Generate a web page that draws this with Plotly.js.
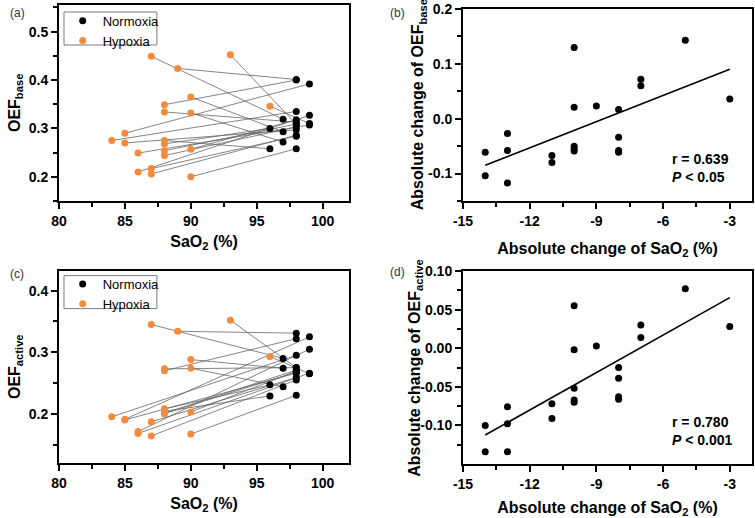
<!DOCTYPE html>
<html>
<head>
<meta charset="utf-8">
<script src="https://cdn.plot.ly/plotly-3.0.1.min.js"></script>
<style>
  html, body { margin: 0; padding: 0; background: #ffffff; }
  .panel { position: absolute; }
  #pa { left: 0; top: 0; }
  #pb { left: 377px; top: 0; }
  #pc { left: 0; top: 259px; }
  #pd { left: 377px; top: 259px; }
  #tick { position: absolute; left: 0; top: 0; width: 1px; height: 1px; }
</style>
</head>
<body>
<div id="pa" class="panel"></div>
<div id="pb" class="panel"></div>
<div id="pc" class="panel"></div>
<div id="pd" class="panel"></div>
<div id="tick"></div>
<script>
// one entry per subject, panels (a) and (c)
var hypSat  = [96, 93, 89, 87, 84, 85, 85, 86, 86, 87, 87, 90, 90, 90, 90, 88, 88, 88, 88, 88, 88];
var normSat = [99, 98, 98, 97, 98, 99, 98, 99, 99, 98, 98, 97, 97, 98, 98, 96, 96, 98, 98, 98, 98];
var hypBase  = [0.346, 0.452, 0.424, 0.449, 0.275, 0.290, 0.270, 0.249, 0.210, 0.217, 0.206,
                0.365, 0.332, 0.200, 0.257, 0.275, 0.268, 0.349, 0.334, 0.254, 0.244];
var normBase = [0.310, 0.309, 0.401, 0.319, 0.335, 0.392, 0.297, 0.307, 0.327, 0.284, 0.286,
                0.293, 0.272, 0.258, 0.318, 0.258, 0.300, 0.400, 0.313, 0.309, 0.303];
var hypActive  = [0.293, 0.352, 0.334, 0.345, 0.195, 0.191, 0.190, 0.171, 0.168, 0.187, 0.164,
                  0.288, 0.274, 0.167, 0.203, 0.208, 0.204, 0.273, 0.270, 0.201, 0.200];
var normActive = [0.265, 0.275, 0.331, 0.290, 0.295, 0.325, 0.266, 0.305, 0.266, 0.259, 0.255,
                  0.274, 0.244, 0.230, 0.269, 0.247, 0.229, 0.275, 0.322, 0.271, 0.268];

// panels (b) and (d): change (hypoxia - normoxia)
var dSat    = [-14, -14, -13, -13, -13, -11, -11, -10, -10, -10, -10, -10, -9, -8, -8, -8, -8, -7, -7, -5, -3];
var dBase   = [-0.061, -0.104, -0.027, -0.058, -0.117, -0.067, -0.080, 0.130, 0.021, -0.050, -0.055,
               -0.059, 0.023, 0.017, -0.034, -0.058, -0.061, 0.072, 0.060, 0.143, 0.036];
var dActive = [-0.100, -0.134, -0.076, -0.098, -0.134, -0.072, -0.091, 0.055, -0.002, -0.052, -0.067,
               -0.070, 0.003, -0.025, -0.039, -0.063, -0.066, 0.030, 0.014, 0.077, 0.028];

// regression lines
var fitX = [-14, -3];
var fitBase = [-0.085, 0.090];
var fitActive = [-0.1125, 0.0655];

// tick labels (plain hyphen, as in the figure)
var dSatTicks = [-15, -12, -9, -6, -3];
var dSatText = ['-15', '-12', '-9', '-6', '-3'];
var dSatMinor = [-13.5, -10.5, -7.5, -4.5];
var dBaseTicks = [-0.1, 0, 0.1, 0.2];
var dBaseText = ['-0.1', '0.0', '0.1', '0.2'];
var dBaseMinor = [-0.15, -0.05, 0.05, 0.15];
var dActiveTicks = [-0.10, -0.05, 0, 0.05, 0.10];
var dActiveText = ['-0.10', '-0.05', '0.00', '0.05', '0.10'];
var dActiveMinor = [-0.125, -0.075, -0.025, 0.025, 0.075];

var FONT = 'Arial, "Liberation Sans", sans-serif';
var ORANGE = '#F68A3B';

function axis(extra) {
    var a = {
        showline: true, linewidth: 2, linecolor: '#000000', mirror: true,
        ticks: 'outside', ticklen: 6, tickwidth: 2, tickcolor: '#000000',
        showgrid: false, zeroline: false,
        tickfont: {family: FONT, size: 14, weight: 'bold', color: '#000000'}
    };
    for (var k in extra) a[k] = extra[k];
    return a;
}

function minorTicks(extra) {
    var m = {ticks: 'outside', ticklen: 4, tickwidth: 2, tickcolor: '#000000', showgrid: false};
    for (var k in extra) m[k] = extra[k];
    return m;
}

function xTitle(text, standoff) {
    return {text: text, standoff: standoff, font: {family: FONT, size: 16, weight: 'bold', color: '#000000'}};
}

function yTitle(text, x) {
    return {
        text: text, xref: 'paper', yref: 'paper', x: x, y: 0.5, textangle: -90,
        xanchor: 'center', yanchor: 'middle', showarrow: false,
        font: {family: FONT, size: 16, weight: 'bold', color: '#000000'}
    };
}

function label(text, x, y) {
    return {
        text: text, xref: 'paper', yref: 'paper', x: x, y: y,
        xanchor: 'left', yanchor: 'middle', showarrow: false,
        font: {family: FONT, size: 12, color: '#333333'}
    };
}

function stat(text) {
    return {
        text: text, xref: 'paper', yref: 'paper', x: 0.7173, y: 0.171,
        xanchor: 'left', yanchor: 'middle', align: 'left', showarrow: false,
        font: {family: FONT, size: 14, weight: 'bold', color: '#000000'}
    };
}

function pairPanel(divId, hy, no, yRange, yTitleText, tag, m, legendY, box) {
    var xs = [], ys = [];
    for (var i = 0; i < hypSat.length; i++) {
        xs.push(hypSat[i], normSat[i], null);
        ys.push(hy[i], no[i], null);
    }
    var data = [
        {
            x: xs, y: ys, mode: 'lines', showlegend: false, hoverinfo: 'skip',
            line: {color: '#666666', width: 0.8}
        },
        {x: normSat, y: no, mode: 'markers', name: 'Normoxia', marker: {color: '#000000', size: 7}},
        {x: hypSat, y: hy, mode: 'markers', name: 'Hypoxia', marker: {color: ORANGE, size: 7}}
    ];
    var layout = {
        width: 377, height: 259,
        margin: m,
        paper_bgcolor: 'rgba(0,0,0,0)', plot_bgcolor: 'rgba(0,0,0,0)',
        font: {family: FONT, color: '#000000'},
        showlegend: true,
        legend: {
            x: 0.0127, y: legendY, xanchor: 'left', yanchor: 'top',
            bgcolor: 'rgba(0,0,0,0)', borderwidth: 0, itemwidth: 30,
            font: {family: FONT, size: 13, color: '#000000'}
        },
        xaxis: axis({
            range: [80, 102], tickmode: 'linear', tick0: 80, dtick: 5,
            minor: minorTicks({tick0: 80, dtick: 2.5}),
            title: xTitle('SaO<sub>2</sub> (%)', 8)
        }),
        yaxis: axis({
            range: yRange, tickmode: 'linear', tick0: 0.2, dtick: 0.1, tickformat: '.1f',
            minor: minorTicks({tick0: 0.15, dtick: 0.05})
        }),
        shapes: [{
            type: 'rect', xref: 'paper', yref: 'paper',
            x0: 0.0172, x1: 0.3376, y0: box[0], y1: box[1],
            line: {color: '#7a7a7a', width: 1}
        }],
        annotations: [
            yTitle(yTitleText, -0.1516),
            label(tag[0], -0.1772, tag[1])
        ]
    };
    return Plotly.newPlot(divId, data, layout, {displayModeBar: false});
}

function changePanel(divId, dy, fy, yRange, yTicks, yText, yMinor, yTitleText, yTitleX, tag, m, statText, standoff) {
    var data = [
        {x: dSat, y: dy, mode: 'markers', showlegend: false, marker: {color: '#000000', size: 7}},
        {
            x: fitX, y: fy, mode: 'lines', showlegend: false, hoverinfo: 'skip',
            line: {color: '#000000', width: 1.6}
        }
    ];
    var layout = {
        width: 378, height: 259,
        margin: m,
        paper_bgcolor: 'rgba(0,0,0,0)', plot_bgcolor: 'rgba(0,0,0,0)',
        font: {family: FONT, color: '#000000'},
        showlegend: false,
        xaxis: axis({
            range: [-15, -2], tickmode: 'array', tickvals: dSatTicks, ticktext: dSatText,
            minor: minorTicks({tickmode: 'array', tickvals: dSatMinor}),
            title: xTitle('Absolute change of SaO<sub>2</sub> (%)', standoff)
        }),
        yaxis: axis({
            range: yRange, tickmode: 'array', tickvals: yTicks, ticktext: yText,
            minor: minorTicks({tickmode: 'array', tickvals: yMinor})
        }),
        annotations: [
            yTitle(yTitleText, yTitleX),
            label(tag[0], -0.2581, tag[1]),
            stat(statText)
        ]
    };
    return Plotly.newPlot(divId, data, layout, {displayModeBar: false});
}

Promise.all([
    pairPanel('pa', hypBase, normBase, [0.15, 0.555], 'OEF<sub>base</sub>', ['(a)', 0.9594],
        {l: 59, r: 27.7, t: 5, b: 58}, 0.9964, [0.7959, 0.9643]),
    changePanel('pb', dBase, fitBase, [-0.15, 0.2], dBaseTicks, dBaseText, dBaseMinor,
        'Absolute change of OEF<sub>base</sub>', -0.1547, ['(b)', 0.9794],
        {l: 85.7, r: 3.3, t: 9, b: 58}, 'r = 0.639<br><i>P</i> &lt; 0.05', 16),
    pairPanel('pc', hypActive, normActive, [0.12, 0.432], 'OEF<sub>active</sub>', ['(c)', 0.9863],
        {l: 59, r: 27.7, t: 10.3, b: 54.7}, 1.0103, [0.8041, 0.9758]),
    changePanel('pd', dActive, fitActive, [-0.15, 0.10], dActiveTicks, dActiveText, dActiveMinor,
        'Absolute change of OEF<sub>active</sub>', -0.165, ['(d)', 0.9935],
        {l: 85.7, r: 3.3, t: 11.7, b: 54}, 'r = 0.780<br><i>P</i> &lt; 0.001', 20)
]).then(function () {
    // nudge the browser into a fresh paint once every panel is drawn
    document.body.style.backgroundColor = '#fffffe';
    document.getElementById('tick').style.background = '#fffffe';
    requestAnimationFrame(function () {
        document.body.style.backgroundColor = '#ffffff';
    });
});
</script>
</body>
</html>
